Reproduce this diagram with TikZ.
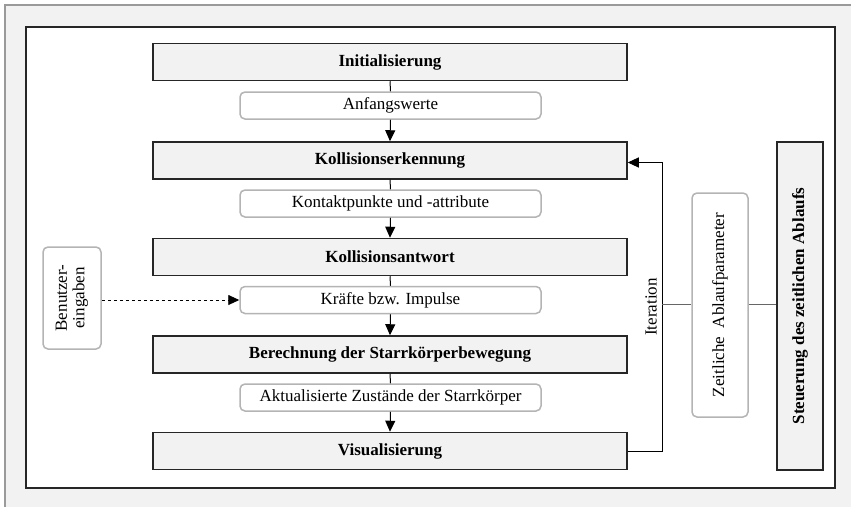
\documentclass[tikz,border=0pt]{standalone}
\usepackage{fontspec}
\setmainfont{Liberation Serif}
\usetikzlibrary{arrows.meta}
\definecolor{panel}{HTML}{F2F2F2}
\definecolor{edge}{HTML}{262626}
\definecolor{softedge}{HTML}{B4B4B4}
\definecolor{framegray}{HTML}{9A9A9A}
\begin{document}
\begin{tikzpicture}[x=1pt,y=-1pt,
  font=\fontsize{17}{19}\selectfont,
  stage/.style={draw=edge,line width=1.5pt,fill=panel,minimum width=474pt,minimum height=37pt,inner sep=0pt,font=\fontsize{17}{19}\selectfont\bfseries},
  dataflow/.style={draw=softedge,line width=1.5pt,fill=white,rounded corners=5pt,minimum width=301pt,minimum height=27pt,inner sep=0pt},
  flow/.style={line width=1pt,-{Triangle[length=11pt,width=10pt]}},
  link/.style={line width=1pt}
]
% page background and frames
\useasboundingbox (0,0) rectangle (851,507);
\fill[panel] (5,5) rectangle (851,507);
\draw[framegray,line width=1.2pt] (851,5) -- (5,5) -- (5,507);
\draw[edge,line width=1.5pt,fill=white] (26,27) rectangle (835,488);

% main stages
\node[stage] (init) at (390,62) {Initialisierung};
\node[stage] (coll) at (390,160.5) {Kollisionserkennung};
\node[stage] (resp) at (390,257) {Kollisionsantwort};
\node[stage] (calc) at (390,354.5) {Berechnung der Starrkörperbewegung};
\node[stage] (vis)  at (390,451) {Visualisierung};

% data passed between stages
\node[dataflow] (d1) at (390.5,105.5) {Anfangswerte};
\node[dataflow] (d2) at (390.5,203.5) {Kontaktpunkte und -attribute};
\node[dataflow] (d3) at (390.5,300) {Kräfte bzw. Impulse};
\node[dataflow] (d4) at (390.5,397.5) {Aktualisierte Zustände der Starrkörper};

% connectors between stages
\draw[link] (init.south) -- (d1.north);
\draw[flow] (d1.south) -- (coll.north);
\draw[link] (coll.south) -- (d2.north);
\draw[flow] (d2.south) -- (resp.north);
\draw[link] (resp.south) -- (d3.north);
\draw[flow] (d3.south) -- (calc.north);
\draw[link] (calc.south) -- (d4.north);
\draw[flow] (d4.south) -- (vis.north);

% user input
\node[dataflow,minimum width=58pt,minimum height=102pt] (user) at (72,298) {};
\node[rotate=90,align=center,font=\fontsize{17}{17.5}\selectfont] at (user.center) {Benutzer-\\eingaben};
\draw[flow,dashed,line width=0.9pt] (user.east |- d3.west) -- (d3.west);

% iteration loop
\coordinate (loopbot) at (662,451);
\coordinate (looptop) at (662,162.5);
\draw[flow] (vis.east |- loopbot) -- (loopbot) -- (looptop) -- (coll.east |- looptop);
\node[rotate=90] (iter) at (651,307) {Iteration};

% timing control
\node[dataflow,minimum width=56pt,minimum height=224pt] (param) at (720,305) {};
\node[rotate=90] at (param.center) {Zeitliche\enspace Ablaufparameter};
\node[draw=edge,line width=1.5pt,fill=panel,minimum width=46pt,minimum height=328pt,inner sep=0pt] (ctrl) at (800,306) {};
\node[rotate=90,font=\fontsize{17}{19}\selectfont\bfseries] at (ctrl.center) {Steuerung des zeitlichen Ablaufs};
\coordinate (tap) at (662,304);
\draw[link,draw=gray!80!black] (tap) -- (param.west |- tap);
\draw[link,draw=gray!80!black] (param.east |- tap) -- (ctrl.west |- tap);
\end{tikzpicture}
\end{document}
